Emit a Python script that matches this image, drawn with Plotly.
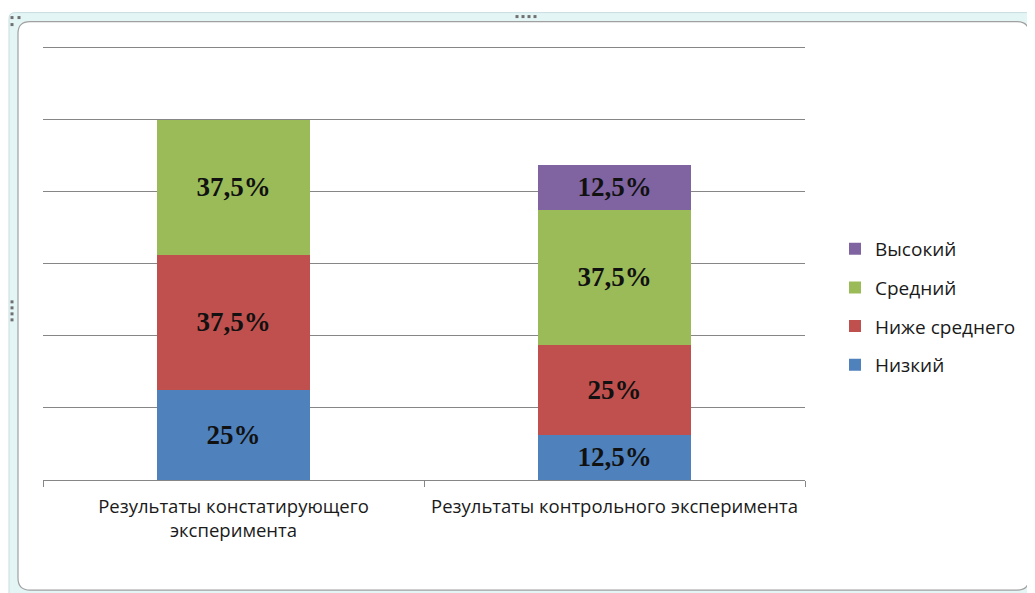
import plotly.graph_objects as go

categories = ["Результаты констатирующего<br>эксперимента", "Результаты контрольного эксперимента"]
series_names = ["Низкий", "Ниже среднего", "Средний", "Высокий"]
low = [25, 12.5]
below_avg = [37.5, 25]
avg = [37.5, 37.5]
high = [None, 12.5]
series_values = [low, below_avg, avg, high]
colors = ["#4F81BD", "#C0504D", "#9BBB59", "#8064A2"]
legend_ranks = [4, 3, 2, 1]

OFF = 8  # browser body margin
W, H = 1035 - OFF, 593 - OFF
YMAX = 120
YTOP = 121
L, R, B = 43 - OFF, 805 - OFF, 480 - OFF
G120 = 48 - OFF
T = B - (B - G120) * YTOP / YMAX


def px(x):
    return (x - OFF - L) / (R - L)


def py(y):
    return (B - (y - OFF)) / (B - T)


def fmt(v):
    if v is None:
        return ""
    return ("%g" % v).replace(".", ",") + "%"


fig = go.Figure()
for name, vals, col, rk in zip(series_names, series_values, colors, legend_ranks):
    fig.add_trace(go.Bar(
        x=categories, y=vals, name=name,
        marker=dict(color=col, line=dict(width=0)),
        text=[fmt(v) for v in vals],
        textposition="inside", insidetextanchor="middle",
        textfont=dict(family="Liberation Serif", size=27, color="#111111", weight="bold"),
        legendgroup=name, legendrank=rk,
    ))


def rounded(x0, y0, x1, y1, r):
    rx, ry = r / (R - L), r / (B - T)
    X0, X1 = px(x0), px(x1)
    Y0, Y1 = py(y0), py(y1)
    return (f"M {X0+rx},{Y0} L {X1-rx},{Y0} Q {X1},{Y0} {X1},{Y0-ry} "
            f"L {X1},{Y1+ry} Q {X1},{Y1} {X1-rx},{Y1} L {X0+rx},{Y1} "
            f"Q {X0},{Y1} {X0},{Y1+ry} L {X0},{Y0-ry} Q {X0},{Y0} {X0+rx},{Y0} Z")


shapes = [
    dict(type="path", xref="paper", yref="paper", layer="below",
         path=rounded(9, 13, 1045, 603, 6),
         fillcolor="#E4F5F6", line=dict(color="#C9DDE0", width=1)),
    dict(type="path", xref="paper", yref="paper", layer="below",
         path=rounded(18, 22, 1029, 590, 12),
         fillcolor="#FFFFFF", line=dict(color="#A0A0A0", width=1.2)),
]

# selection handles (small dots)
handle_dots = [(517, 17), (523, 17), (529, 17), (535, 17),
               (12, 302), (12, 308), (12, 314), (12, 320),
               (12, 18), (19, 18), (12, 25)]
for hx, hy in handle_dots:
    shapes.append(dict(type="rect", xref="paper", yref="paper",
                       x0=px(hx - 1.5), x1=px(hx + 1.5), y0=py(hy + 1.5), y1=py(hy - 1.5),
                       fillcolor="#707070", line=dict(width=0)))

fig.update_layout(
    width=W, height=H,
    margin=dict(l=L, r=W - R, t=T, b=H - B),
    barmode="stack", bargap=0.6,
    paper_bgcolor="white", plot_bgcolor="rgba(0,0,0,0)",
    shapes=shapes,
    showlegend=True,
    legend=dict(x=px(835), y=py(307), xanchor="left", yanchor="middle",
                traceorder="grouped", tracegroupgap=11,
                font=dict(family="Open Sans", size=19, color="#1a1a1a"),
                bgcolor="rgba(0,0,0,0)", itemwidth=30),
    font=dict(family="Open Sans", size=18, color="#1a1a1a"),
)
fig.update_xaxes(
    tickson="boundaries", ticks="outside", ticklen=6, tickcolor="#868686",
    showline=True, linecolor="#868686", linewidth=1, showgrid=False,
    tickfont=dict(family="Open Sans", size=18.5, color="#1a1a1a"),
    ticklabelstandoff=10,
)
fig.update_yaxes(
    range=[0, YTOP], dtick=20, showticklabels=False, showgrid=True,
    gridcolor="#868686", gridwidth=1, zeroline=False, showline=False,
)
fig.write_html("out.html")
